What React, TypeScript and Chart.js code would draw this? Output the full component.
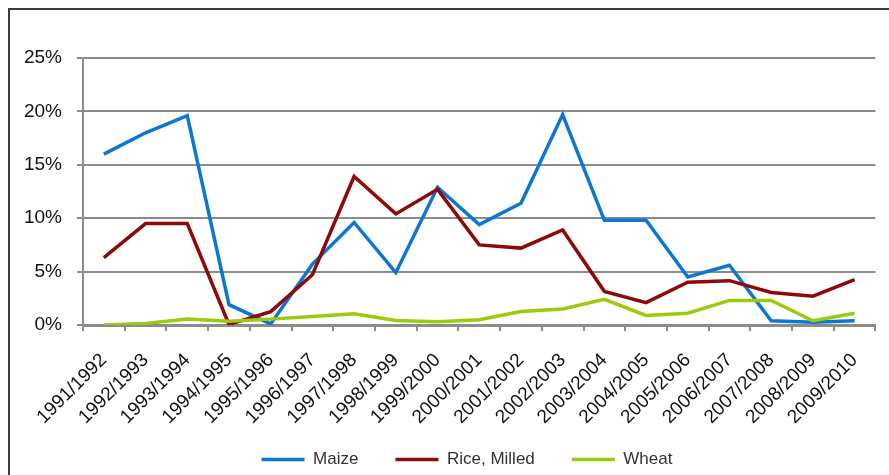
import React, { useEffect, useRef } from "react";
import { Chart, registerables } from "chart.js";

Chart.register(...registerables);

const categories = [
  "1991/1992", "1992/1993", "1993/1994", "1994/1995", "1995/1996", "1996/1997",
  "1997/1998", "1998/1999", "1999/2000", "2000/2001", "2001/2002", "2002/2003",
  "2003/2004", "2004/2005", "2005/2006", "2006/2007", "2007/2008", "2008/2009",
  "2009/2010",
];

const maize = [16.0, 18.0, 19.6, 1.9, 0.1, 5.7, 9.6, 4.9, 12.9, 9.4, 11.4, 19.7, 9.8, 9.8, 4.5, 5.6, 0.4, 0.25, 0.4];
const riceMilled = [6.3, 9.5, 9.5, 0.05, 1.25, 4.7, 13.9, 10.4, 12.7, 7.5, 7.2, 8.9, 3.15, 2.1, 4.0, 4.15, 3.05, 2.7, 4.25];
const wheat = [0, 0.15, 0.55, 0.35, 0.55, 0.8, 1.05, 0.42, 0.3, 0.5, 1.27, 1.5, 2.4, 0.9, 1.1, 2.3, 2.3, 0.4, 1.1];

const yTicks = [0, 5, 10, 15, 20, 25];

const FONT = "'Liberation Sans', Arial, sans-serif";

const unclipLabels = {
  id: "unclipLabels",
  afterLayout(chart: any) {
    chart.scales.x.bottom = chart.height;
    chart.scales.y.left = 0;
  },
};

export default function App() {
  const ref = useRef<HTMLCanvasElement | null>(null);

  useEffect(() => {
    if (!ref.current) return;
    const chart = new Chart(ref.current, {
      type: "line",
      data: {
        labels: categories,
        datasets: [
          { label: "Maize", data: maize, borderColor: "#0B77D1", backgroundColor: "#0B77D1", order: 3 },
          { label: "Rice, Milled", data: riceMilled, borderColor: "#8C0A07", backgroundColor: "#8C0A07", order: 2 },
          { label: "Wheat", data: wheat, borderColor: "#9CCB0C", backgroundColor: "#9CCB0C", order: 1 },
        ].map((d) => ({
          ...d,
          borderWidth: 3.5,
          pointRadius: 0,
          pointHoverRadius: 0,
          pointStyle: "line",
          tension: 0,
          fill: false,
        })),
      },
      plugins: [unclipLabels],
      options: {
        responsive: false,
        animation: false,
        layout: { padding: { top: 48, right: 10, left: 45, bottom: 0 } },
        plugins: {
          tooltip: { enabled: false },
          legend: {
            position: "bottom",
            labels: {
              usePointStyle: true,
              pointStyle: "line",
              pointStyleWidth: 43,
              padding: 37,
              color: "#333",
              font: { family: FONT, size: 17 },
              sort: (a: any, b: any) => a.datasetIndex - b.datasetIndex,
            },
          },
        },
        scales: {
          x: {
            offset: true,
            afterFit: (s: any) => {
              s.height = 89;
            },
            grid: {
              offset: true,
              drawOnChartArea: false,
              drawTicks: true,
              tickLength: 6,
              color: "#8c8c8c",
              lineWidth: 2,
            },
            border: { color: "#8c8c8c", width: 3 },
            ticks: {
              autoSkip: false,
              minRotation: 45,
              maxRotation: 45,
              padding: 18,
              color: "#111",
              font: { family: FONT, size: 19 },
            },
          },
          y: {
            min: 0,
            max: 25,
            afterFit: (s: any) => {
              s.width = 28;
            },
            afterBuildTicks: (s: any) => {
              s.ticks = yTicks.map((v) => ({ value: v }));
            },
            grid: {
              color: "#8c8c8c",
              lineWidth: 2,
              tickLength: 6,
              drawTicks: true,
            },
            border: { color: "#8c8c8c", width: 2 },
            ticks: {
              padding: 15,
              color: "#111",
              font: { family: FONT, size: 19 },
              callback: (v: any) => `${v}%`,
            },
          },
        },
      },
    });
    return () => chart.destroy();
  }, []);

  return (
    <div
      style={{
        position: "fixed",
        left: 8,
        top: 8,
        width: 881,
        height: 470,
        boxSizing: "border-box",
        borderTop: "2px solid #3c3c3c",
        borderLeft: "2px solid #3c3c3c",
        background: "#fff",
      }}
    >
      <canvas ref={ref} width={879} height={468} style={{ display: "block" }} />
    </div>
  );
}
